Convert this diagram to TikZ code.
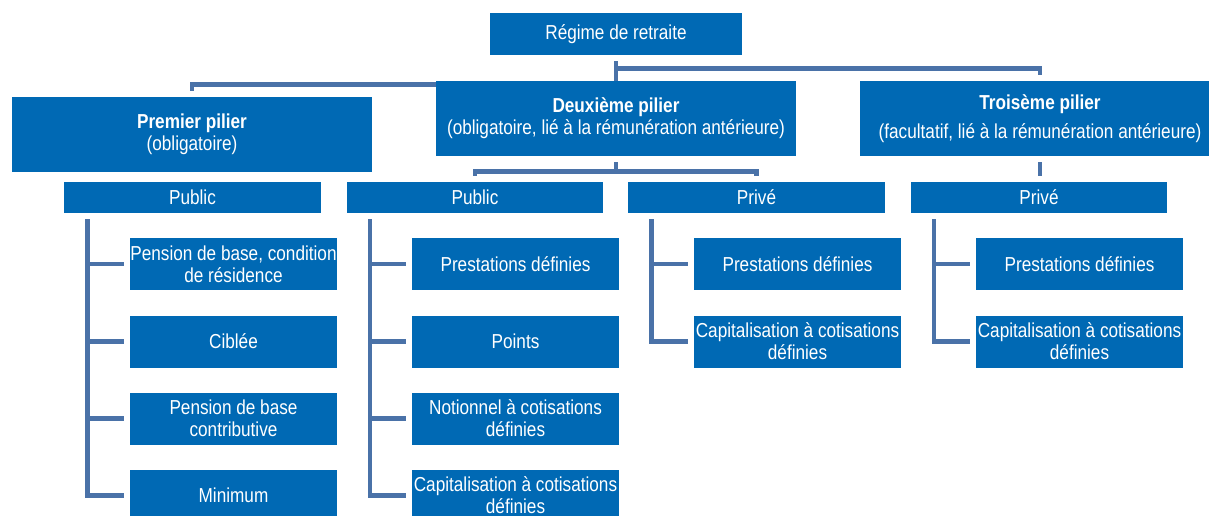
\documentclass[tikz,border=0pt]{standalone}
\usepackage{fontspec}
\setmainfont{Liberation Sans}[FakeStretch=0.85]
\usetikzlibrary{calc,backgrounds}

\tikzset{
    box/.style={fill=pil_blue, text=white, align=center, inner sep=0pt,
        font=\fontsize{11.5}{12.5}\selectfont},
    pillar/.style={box, minimum width=7.2cm, minimum height=1.5cm},
    branch/.style={box, minimum width=5.14cm, minimum height=0.62cm},
    leaf/.style={box, minimum width=4.14cm, minimum height=1.04cm},
    link/.style={draw=link_blue, line width=2.6pt, shorten <=0.12cm, shorten >=0.12cm},
}

\begin{document}
\begin{tikzpicture}[x=0.02cm, y=-0.02cm]
    \definecolor{pil_blue}{HTML}{0069B4}
    \definecolor{link_blue}{HTML}{4A72A8}
    %\draw[help lines] (0,0) grid (1209,515);
    \useasboundingbox (0,0) rectangle (1209,515);

    \node[box, minimum width=5.04cm, minimum height=0.84cm] (regime) at (616,34) {Régime de retraite};

    \node[pillar] (premier) at (192,134.5) {\textbf{Premier pilier}\\(obligatoire)};
    \node[pillar] (deuxieme) at (616,118.5) {\textbf{Deuxième pilier}\\(obligatoire, lié à la rémunération antérieure)};
    \node[pillar] (troisieme) at (1040,118.5) {\textbf{Troisème pilier}\\[4pt](facultatif, lié à la rémunération antérieure)};

    \node[branch] (pub1) at (192.5,197.5) {Public};
    \node[branch] (pub2) at (475,197.5) {Public};
    \node[branch] (prive1) at (756.5,197.5) {Privé};
    \node[branch] (prive2) at (1039,197.5) {Privé};

    % premier pilier, public
    \node[leaf] (pub1_res) at (233.5,264) {Pension de base, condition\\de résidence};
    \node[leaf] (pub1_cib) at (233.5,341.5) {Ciblée};
    \node[leaf] (pub1_con) at (233.5,418.5) {Pension de base\\contributive};
    \node[leaf] (pub1_min) at (233.5,495.5) {Minimum};

    % deuxieme pilier, public
    \node[leaf] (pub2_pd) at (515.5,264) {Prestations définies};
    \node[leaf] (pub2_pts) at (515.5,341.5) {Points};
    \node[leaf] (pub2_not) at (515.5,418.5) {Notionnel à cotisations\\définies};
    \node[leaf] (pub2_cap) at (515.5,495.5) {Capitalisation à cotisations\\définies};

    % deuxieme pilier, prive
    \node[leaf] (prive1_pd) at (797.5,264) {Prestations définies};
    \node[leaf] (prive1_cap) at (797.5,341.5) {Capitalisation à cotisations\\définies};

    % troisieme pilier, prive
    \node[leaf] (prive2_pd) at (1079.5,264) {Prestations définies};
    \node[leaf] (prive2_cap) at (1079.5,341.5) {Capitalisation à cotisations\\définies};

    \begin{scope}[on background layer]
        \draw[link] (regime.south) -- ($(regime.south)+(0,13)$) -| (troisieme.north);
        \draw[link] (regime.south) -- ($(regime.south)+(0,29)$) -| (premier.north);
        \draw[link] (deuxieme.south) -- ($(deuxieme.south)+(0,15)$) -| (pub2.north);
        \draw[link] (deuxieme.south) -- ($(deuxieme.south)+(0,15)$) -| (prive1.north);
        \draw[link] (troisieme.south) -- (troisieme.south |- prive2.north);

        \draw[link] ($(pub1.south west)+(24,0)$) |- (pub1_res.west);
        \draw[link] ($(pub1.south west)+(24,0)$) |- (pub1_cib.west);
        \draw[link] ($(pub1.south west)+(24,0)$) |- (pub1_con.west);
        \draw[link] ($(pub1.south west)+(24,0)$) |- (pub1_min.west);

        \draw[link] ($(pub2.south west)+(24,0)$) |- (pub2_pd.west);
        \draw[link] ($(pub2.south west)+(24,0)$) |- (pub2_pts.west);
        \draw[link] ($(pub2.south west)+(24,0)$) |- (pub2_not.west);
        \draw[link] ($(pub2.south west)+(24,0)$) |- (pub2_cap.west);

        \draw[link] ($(prive1.south west)+(24,0)$) |- (prive1_pd.west);
        \draw[link] ($(prive1.south west)+(24,0)$) |- (prive1_cap.west);

        \draw[link] ($(prive2.south west)+(24,0)$) |- (prive2_pd.west);
        \draw[link] ($(prive2.south west)+(24,0)$) |- (prive2_cap.west);
    \end{scope}
\end{tikzpicture}
\end{document}
